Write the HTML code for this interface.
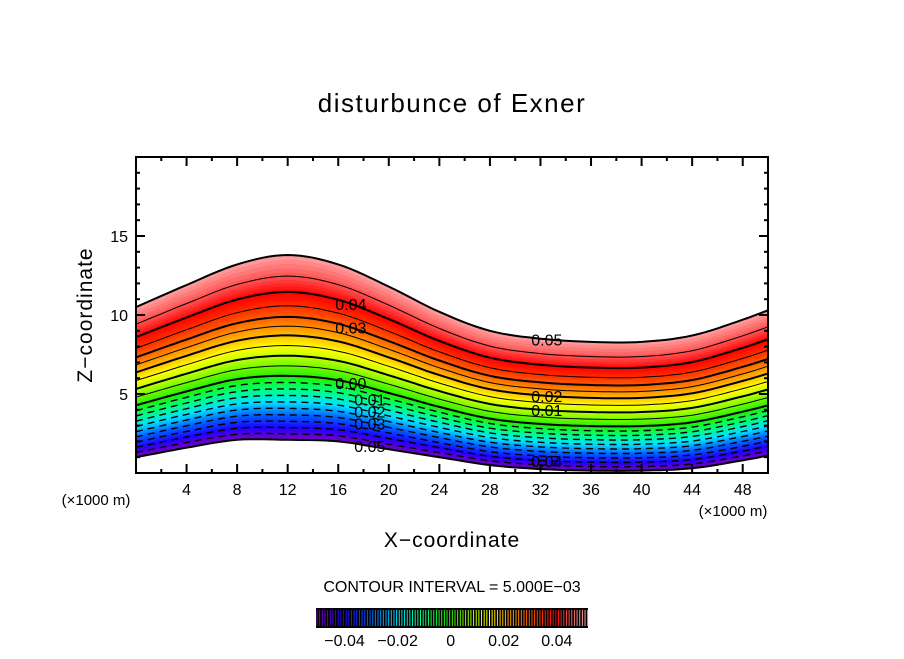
<!DOCTYPE html>
<html><head><meta charset="utf-8"><style>
body{margin:0;background:#fff;}
svg text{font-family:"Liberation Sans",sans-serif;}
</style></head><body>
<svg id="c" width="904" height="654" viewBox="0 0 904 654" xmlns="http://www.w3.org/2000/svg">
<rect width="904" height="654" fill="#fff"/>
<text x="452" y="112" text-anchor="middle" font-size="26" letter-spacing="1.5">disturbunce of Exner</text>
<g id="plot"></g>
<g id="axes"></g>
<text x="452" y="547" text-anchor="middle" font-size="21" letter-spacing="1">X−coordinate</text>
<text transform="translate(92,315) rotate(-90)" text-anchor="middle" font-size="21" letter-spacing="1">Z−coordinate</text>
<text x="96" y="505" text-anchor="middle" font-size="15">(×1000 m)</text>
<text x="733" y="516" text-anchor="middle" font-size="15">(×1000 m)</text>
<text x="452" y="592" text-anchor="middle" font-size="16">CONTOUR INTERVAL = 5.000E−03</text>
<g id="cbar"></g>
</svg>
<script>
// ---- data ----
const xSamples=[0,4,8,12,16,20,24,28,32,36,40,44,48,50];
const upperZ=[10.5,11.9,13.2,13.8,13.2,11.8,10.2,9.0,8.5,8.3,8.3,8.7,9.7,10.3];
const lowerZ=[1.0,1.6,2.1,2.1,2.0,1.5,1.0,0.5,0.25,0.15,0.15,0.3,0.8,1.1];
const levels=[-0.05,-0.045,-0.04,-0.035,-0.03,-0.025,-0.02,-0.015,-0.01,-0.005,0,0.005,0.01,0.015,0.02,0.025,0.03,0.035,0.04,0.045,0.05];
const levelFrac=[0,0.032,0.066,0.1,0.135,0.17,0.205,0.24,0.275,0.31,0.346,0.4,0.455,0.51,0.565,0.615,0.665,0.725,0.8,0.886,1];
const colorLevels=[-0.05,-0.04,-0.03,-0.02,-0.01,0,0.01,0.015,0.02,0.03,0.04,0.05];
const colorStops=["#8000c0","#2000ff","#0060ff","#00e0ff","#00ff80","#20f000","#c0ff00","#ffff00","#ffc000","#ff6000","#ff0000","#ffa0a0"];
const xTicks=[4,8,12,16,20,24,28,32,36,40,44,48];
const yTicks=[5,10,15];
const cbarTicks=[-0.04,-0.02,0,0.02,0.04];
const cbarTickLabels=["−0.04","−0.02","0","0.02","0.04"];
const labelSpecs=[[17,0.04,"0.04"],[17,0.03,"0.03"],[17,0,"0.00"],[18.5,-0.01,"0.01"],[18.5,-0.02,"0.02"],[18.5,-0.03,"0.03"],[18.5,-0.05,"0.05"],[32.5,0.05,"0.05"],[32.5,0.02,"0.02"],[32.5,0.01,"0.01"],[32.5,-0.04,"0.04"]];
// ---- axes functions ----
const X0=136,X1=768,Y0=473,Y1=157;
const sx=v=>X0+(X1-X0)*v/50, sy=v=>Y0-(Y0-Y1)*v/20;
const NS="http://www.w3.org/2000/svg";
function el(t,a,p){const e=document.createElementNS(NS,t);for(const k in a)e.setAttribute(k,a[k]);p.appendChild(e);return e;}
function spline(xs,ys,x){const n=xs.length;let i=0;while(i<n-2&&x>xs[i+1])i++;
  const h=xs[i+1]-xs[i],t=(x-xs[i])/h;
  const m=k=>{if(k<=0)return (ys[1]-ys[0])/(xs[1]-xs[0]);if(k>=n-1)return (ys[n-1]-ys[n-2])/(xs[n-1]-xs[n-2]);return (ys[k+1]-ys[k-1])/(xs[k+1]-xs[k-1]);};
  const m0=m(i)*h,m1=m(i+1)*h,t2=t*t,t3=t2*t;
  return (2*t3-3*t2+1)*ys[i]+(t3-2*t2+t)*m0+(-2*t3+3*t2)*ys[i+1]+(t3-t2)*m1;}
function lin(xs,ys,x){for(let i=0;i<xs.length-1;i++){if(x<=xs[i+1]){const t=(x-xs[i])/(xs[i+1]-xs[i]);return ys[i]+(ys[i+1]-ys[i])*t;}}return ys[ys.length-1];}
function fracOf(v){return spline(levels,levelFrac,v);}
function hex(c){return [1,3,5].map(i=>parseInt(c.substr(i,2),16));}
function colorOf(v){for(let i=0;i<colorLevels.length-1;i++){if(v<=colorLevels[i+1]){const t=(v-colorLevels[i])/(colorLevels[i+1]-colorLevels[i]);const a=hex(colorStops[i]),b=hex(colorStops[i+1]);return "rgb("+a.map((q,j)=>Math.round(q+(b[j]-q)*t)).join(",")+")";}}return colorStops[colorStops.length-1];}
function zAt(x,v){const lo=spline(xSamples,lowerZ,x),up=spline(xSamples,upperZ,x);return lo+(up-lo)*fracOf(v);}
function curve(v){const pts=[];for(let x=0;x<=50.001;x+=0.5)pts.push([sx(x),sy(zAt(x,v))]);return pts;}
const plot=document.getElementById('plot');
const vmin=levels[0],vmax=levels[levels.length-1],NB=100;
for(let i=0;i<NB;i++){
  const va=vmin+(vmax-vmin)*i/NB,vb=vmin+(vmax-vmin)*(i+1)/NB;
  const a=curve(va),b=curve(vb).reverse();
  const p=el('polygon',{points:a.concat(b).map(q=>q[0].toFixed(1)+","+q[1].toFixed(1)).join(" "),fill:colorOf((va+vb)/2),stroke:colorOf((va+vb)/2),'stroke-width':0.6},plot);
  
  
}
levels.forEach((v,i)=>{
  const major=Math.abs(Math.round(v*1000)%10)===0;
  const edge=(i===0||i===levels.length-1);
  const a={d:"M"+curve(v).map(q=>q[0].toFixed(1)+","+q[1].toFixed(1)).join("L"),fill:"none",stroke:"#000","stroke-width":edge?2:(v<0?1.4:(major?2:1))};
  if(v<0&&!edge)a["stroke-dasharray"]="7,5";
  const p=el('path',a,plot);
  
  
});
labelSpecs.forEach(s=>{
  const x=sx(s[0]),y=sy(zAt(s[0],s[1]));
  const t=el('text',{x:x,y:y+6,'text-anchor':'middle','font-size':16},plot);
  t.textContent=s[2];
  
  
});
const ax=document.getElementById('axes');
const fr=el('rect',{x:X0,y:Y1,width:X1-X0,height:Y0-Y1,fill:"none",stroke:"#000","stroke-width":2},ax);


for(let v=2;v<50;v+=2){const L=v%4===0?9:4;
  el('line',{x1:sx(v),x2:sx(v),y1:Y0,y2:Y0-L,stroke:"#000","stroke-width":2},ax);
  el('line',{x1:sx(v),x2:sx(v),y1:Y1,y2:Y1+L,stroke:"#000","stroke-width":2},ax);}
for(let v=1;v<20;v++){const L=v%5===0?9:4;
  el('line',{x1:X0,x2:X0+L,y1:sy(v),y2:sy(v),stroke:"#000","stroke-width":2},ax);
  el('line',{x1:X1,x2:X1-L,y1:sy(v),y2:sy(v),stroke:"#000","stroke-width":2},ax);}
xTicks.forEach(v=>{const t=el('text',{x:sx(v),y:495,'text-anchor':'middle','font-size':16},ax);t.textContent=v;
  
  });
yTicks.forEach(v=>{const t=el('text',{x:128,y:sy(v)+6,'text-anchor':'end','font-size':16},ax);t.textContent=v;
  
  });
const cb=document.getElementById('cbar');
const CX0=316,CX1=588,CY0=608,CY1=628;
const cx=v=>CX0+(CX1-CX0)*(v-vmin)/(vmax-vmin+0.0025);
el('rect',{x:CX0,y:CY0,width:CX1-CX0,height:CY1-CY0,fill:"#000"},cb);
for(let i=0;i<=110;i++){const v=vmin+i*0.001;if(v>vmax+0.002)break;
  const l=el('line',{x1:cx(v)+1,x2:cx(v)+1,y1:CY0+2,y2:CY1-2,stroke:colorOf(Math.min(v,vmax)),"stroke-width":1},cb);
  
  }
cbarTicks.forEach((v,i)=>{const t=el('text',{x:cx(v)+2,y:646,'text-anchor':'middle','font-size':16},cb);t.textContent=cbarTickLabels[i];
  
  });
</script>
</body></html>
